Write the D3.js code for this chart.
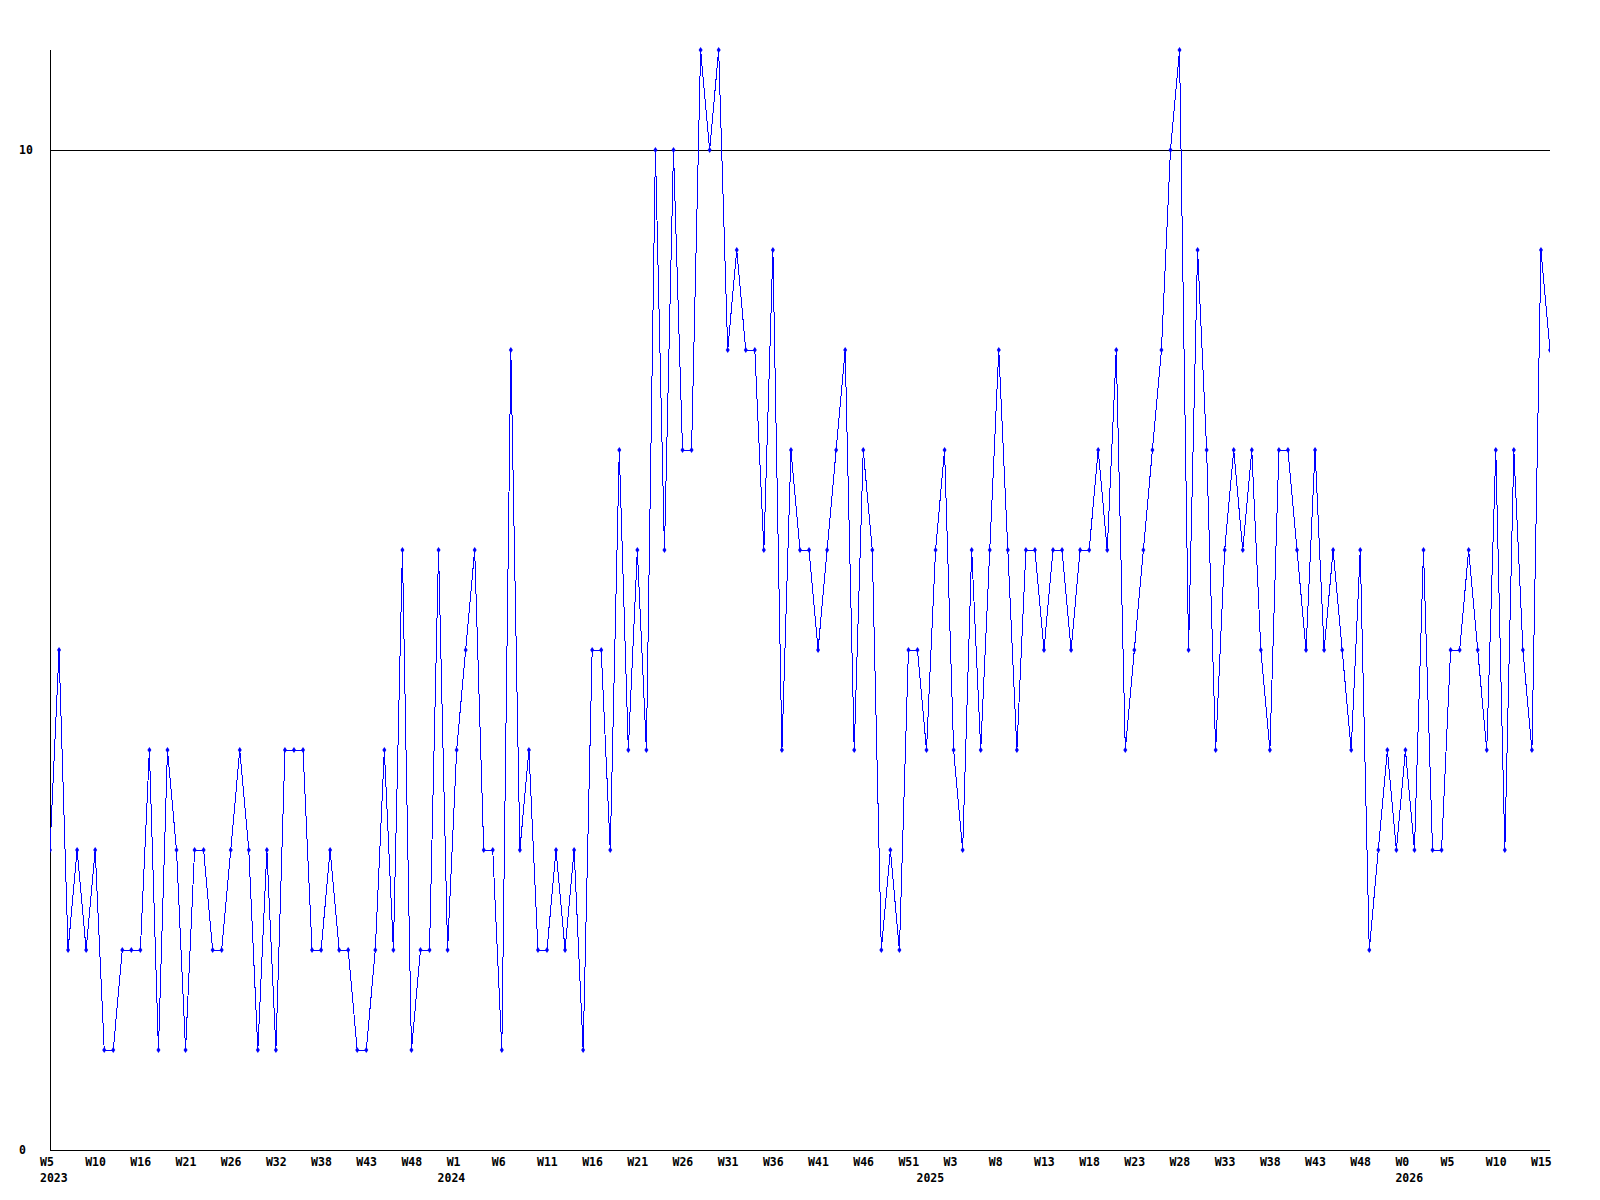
<!DOCTYPE html>
<html>
<head>
<meta charset="utf-8">
<script src="https://cdn.jsdelivr.net/npm/d3@7"></script>
<style>
  html, body { margin: 0; padding: 0; background: #fff; }
  svg { display: block; }
  text { font-family: "DejaVu Sans Mono", "Liberation Mono", monospace; font-weight: bold; font-size: 11.5px; fill: #000; }
</style>
</head>
<body>
<script>
// Weekly values, 2023 W5 .. 2026 W16 (167 points)
const values = [
  3,5,2,3,2,3,1,1,2,2,2,4,1,4,3,1,3,3,2,2,3,4,3,1,
  3,1,4,4,4,2,2,3,2,2,1,1,2,4,2,6,1,2,2,6,2,4,5,6,
  3,3,1,8,3,4,2,2,3,2,3,1,5,5,3,7,4,6,4,10,6,10,7,7,
  11,10,11,8,9,8,8,6,9,4,7,6,6,5,6,7,8,4,7,6,2,3,
  2,5,5,4,6,7,4,3,6,4,6,8,6,4,6,6,5,6,6,5,6,6,7,
  6,8,4,5,6,7,8,10,11,5,9,7,4,6,7,6,7,5,4,7,7,6,5,
  7,5,6,5,4,6,2,3,4,3,4,3,6,3,3,5,5,6,5,4,7,3,7,5,4,9,8
];
// Week tick labels (one every 5th point)
const tickWeeks = ["W5","W10","W16","W21","W26","W32","W38","W43","W48",
  "W1","W6","W11","W16","W21","W26","W31","W36","W41","W46","W51",
  "W3","W8","W13","W18","W23","W28","W33","W38","W43","W48",
  "W0","W5","W10","W15"];
const yearLabels = ["2023","2024","2025","2026"];
const yearTickIndex = [0,44,97,150];
const yTicks = [0,10];
const refLine = [10];

const W = 1600, H = 1200;
const pLeft = 50, pRight = 1550, pTop = 50, pBottom = 1150;

const svg = d3.select("body").append("svg").attr("width", W).attr("height", H);
svg.append("rect").attr("width", W).attr("height", H).attr("fill", "#fff");

const x = d3.scaleLinear().domain([0, values.length - 1]).range([pLeft, pRight]);
const y = d3.scaleLinear().domain([0, 11]).range([pBottom, pTop]);

// reference line at 10
svg.selectAll("line.ref").data(refLine).enter().append("line")
  .attr("class", "ref")
  .attr("x1", pLeft).attr("x2", pRight)
  .attr("y1", d => Math.round(y(d)) + 0.5).attr("y2", d => Math.round(y(d)) + 0.5)
  .attr("stroke", "#000").attr("stroke-width", 1).attr("shape-rendering", "crispEdges");

// axes lines
svg.append("line").attr("x1", pLeft + 0.5).attr("x2", pLeft + 0.5).attr("y1", pTop).attr("y2", pBottom)
  .attr("stroke", "#000").attr("stroke-width", 1).attr("shape-rendering", "crispEdges");
svg.append("line").attr("x1", pLeft).attr("x2", pRight).attr("y1", pBottom + 0.5).attr("y2", pBottom + 0.5)
  .attr("stroke", "#000").attr("stroke-width", 1).attr("shape-rendering", "crispEdges");

// y labels
svg.selectAll("text.ylab").data(yTicks).enter().append("text")
  .attr("class", "ylab")
  .attr("x", 19)
  .attr("y", d => y(d) + 4)
  .text(d => d);

// x week labels
svg.selectAll("text.wk").data(tickWeeks).enter().append("text")
  .attr("class", "wk")
  .attr("x", (d, i) => x(i * 5) - 10)
  .attr("y", 1166)
  .text(d => d);

// year labels
svg.selectAll("text.yr").data(yearLabels).enter().append("text")
  .attr("class", "yr")
  .attr("x", (d, i) => x(yearTickIndex[i]) - 10)
  .attr("y", 1182)
  .text(d => d);

// data line
const line = d3.line().x((d, i) => x(i)).y(d => y(d));
svg.append("path").datum(values)
  .attr("d", line)
  .attr("fill", "none")
  .attr("stroke", "#0000ff")
  .attr("stroke-width", 1)
  .attr("shape-rendering", "crispEdges");

// markers (small diamonds)
const clip = svg.append("clipPath").attr("id", "plotclip");
clip.append("rect").attr("x", pLeft).attr("y", 0).attr("width", pRight - pLeft).attr("height", H);
svg.append("g").attr("clip-path", "url(#plotclip)")
  .selectAll("path.mk").data(values).enter().append("path")
  .attr("class", "mk")
  .attr("d", (d, i) => {
    const cx = x(i), cy = y(d);
    return `M${cx},${cy - 3}L${cx + 2},${cy}L${cx},${cy + 3}L${cx - 2},${cy}Z`;
  })
  .attr("fill", "#0000ff");
</script>
</body>
</html>
